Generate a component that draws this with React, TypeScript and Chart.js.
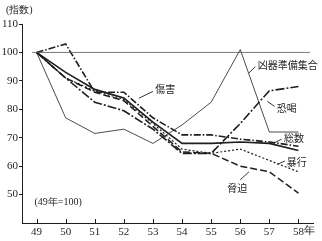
import React, { useEffect, useRef } from "react";
import { Chart, registerables } from "chart.js";

Chart.register(...registerables);

// ---- data ----
const years = [49, 50, 51, 52, 53, 54, 55, 56, 57, 58];
const total = [100, 93, 87, 84, 75.5, 68, 68, 68.5, 68, 65.5];
const injury = [100, 103, 86, 86, 77, 71, 71, 69.5, 68.5, 67];
const assault = [100, 91, 86.5, 83.5, 75, 66, 64.5, 66, 62, 58];
const threat = [100, 91, 86, 83, 74, 65, 64.5, 60, 58, 50.5];
const extortion = [100, 91, 82.5, 79.5, 73, 64.5, 64.5, 75, 86.5, 88];
const weapons = [100, 77, 71.5, 73, 68, 74.5, 82.5, 101, 72, 72];
const yTicks = [50, 60, 70, 80, 90, 100, 110];
const baseX = [48.85, 58.4];
const baseY = [100, 100];

const INK = "#1e1e1e";
const JP = '"Noto Sans CJK JP", "Noto Sans", sans-serif';
const NUM = '"Liberation Serif", "DejaVu Serif", serif';

// series labels: text anchor (data coords) and pointer line (data coords)
const seriesLabels = [
  { text: "凶器準備集合", tx: 56.6, ty: 95.4, p: [56.52, 95.0, 56.3, 92.8] },
  { text: "傷害", tx: 53.08, ty: 87.0, p: [53.0, 86.3, 52.52, 83.9] },
  { text: "恐喝", tx: 57.25, ty: 80.3, p: [57.18, 81.0, 56.93, 82.8] },
  { text: "総数", tx: 57.5, ty: 69.8, p: [57.42, 69.5, 57.14, 68.0] },
  { text: "暴行", tx: 57.6, ty: 61.4, p: [57.53, 61.8, 57.27, 60.6] },
  { text: "脅迫", tx: 55.55, ty: 52.4, p: [56.0, 55.2, 56.3, 58.0] },
];

export default function App() {
  const ref = useRef<HTMLCanvasElement>(null);

  useEffect(() => {
    const canvas = ref.current;
    if (!canvas) return;
    const mk = (arr: number[]) => years.map((yr, i) => ({ x: yr, y: arr[i] }));

    const overlay = {
      id: "overlay",
      afterDatasetsDraw(chart: any) {
        const { ctx, scales, chartArea } = chart;
        const x = scales.x;
        const y = scales.y;
        ctx.save();
        ctx.fillStyle = INK;
        ctx.strokeStyle = INK;
        // inward x ticks
        ctx.lineWidth = 1;
        for (const yr of years) {
          const px = Math.round(x.getPixelForValue(yr)) + 0.5;
          ctx.beginPath();
          ctx.moveTo(px, chartArea.bottom);
          ctx.lineTo(px, chartArea.bottom - 4);
          ctx.stroke();
        }
        // series labels + pointers
        ctx.lineWidth = 0.9;
        ctx.font = `10px ${JP}`;
        ctx.textBaseline = "middle";
        ctx.textAlign = "left";
        for (const a of seriesLabels) {
          ctx.beginPath();
          ctx.moveTo(x.getPixelForValue(a.p[0]), y.getPixelForValue(a.p[1]));
          ctx.lineTo(x.getPixelForValue(a.p[2]), y.getPixelForValue(a.p[3]));
          ctx.stroke();
          ctx.fillText(a.text, x.getPixelForValue(a.tx), y.getPixelForValue(a.ty));
        }
        // note
        ctx.font = `10px ${NUM}`;
        ctx.fillText("(49年=100)", x.getPixelForValue(48.93), y.getPixelForValue(47.4));
        // unit
        ctx.fillText("(指数)", 6, 10);
        // 年 after last tick label
        ctx.font = `11px ${NUM}`;
        ctx.fillText("年", x.getPixelForValue(58) + 6, chartArea.bottom + 8.5);
        ctx.restore();
      },
    };

    const line = (data: number[], width: number, dash: number[]) => ({
      data: mk(data),
      borderColor: INK,
      borderWidth: width,
      borderDash: dash,
      pointRadius: 0,
      tension: 0,
      fill: false,
    });

    const chart = new Chart(canvas, {
      type: "line",
      data: {
        datasets: [
          {
            data: baseX.map((v, i) => ({ x: v, y: baseY[i] })),
            borderColor: "#555",
            borderWidth: 0.8,
            pointRadius: 0,
            fill: false,
          },
          line(weapons, 0.8, []),
          line(total, 1.6, []),
          line(injury, 1.6, [7, 2, 1.5, 2]),
          line(assault, 1.2, [2, 2]),
          line(threat, 1.5, [7, 3]),
          line(extortion, 1.6, [9, 2, 2, 2]),
        ],
      },
      options: {
        animation: false,
        responsive: false,
        devicePixelRatio: 1,
        layout: { padding: { top: 24, right: 9, left: 0, bottom: 0 } },
        plugins: { legend: { display: false }, tooltip: { enabled: false } },
        scales: {
          x: {
            type: "linear",
            min: 48.5,
            max: 58.5,
            afterBuildTicks: (s: any) => {
              s.ticks = years.map((v) => ({ value: v }));
            },
            afterFit: (s: any) => {
              s.height = 18;
            },
            grid: { display: true, drawOnChartArea: false, drawTicks: false, color: INK },
            border: { display: true, color: INK, width: 1 },
            ticks: {
              padding: 3,
              color: INK,
              font: { family: NUM, size: 11 },
              maxRotation: 0,
              autoSkip: false,
              callback: (v: any) => String(v),
            },
          },
          y: {
            type: "linear",
            min: 40,
            max: 110,
            afterBuildTicks: (s: any) => {
              s.ticks = yTicks.map((v) => ({ value: v }));
            },
            afterFit: (s: any) => {
              s.width = 22;
            },
            grid: { display: true, drawOnChartArea: false, drawTicks: true, tickLength: 3, color: INK },
            border: { display: true, color: INK, width: 1 },
            ticks: {
              padding: 1,
              color: INK,
              font: { family: NUM, size: 11 },
              autoSkip: false,
            },
          },
        },
      },
      plugins: [overlay],
    });
    return () => chart.destroy();
  }, []);

  return (
    <div style={{ position: "fixed", left: 0, top: 0, width: 322, height: 241, background: "#fff" }}>
      <canvas ref={ref} width={322} height={241} style={{ width: 322, height: 241 }} />
    </div>
  );
}
